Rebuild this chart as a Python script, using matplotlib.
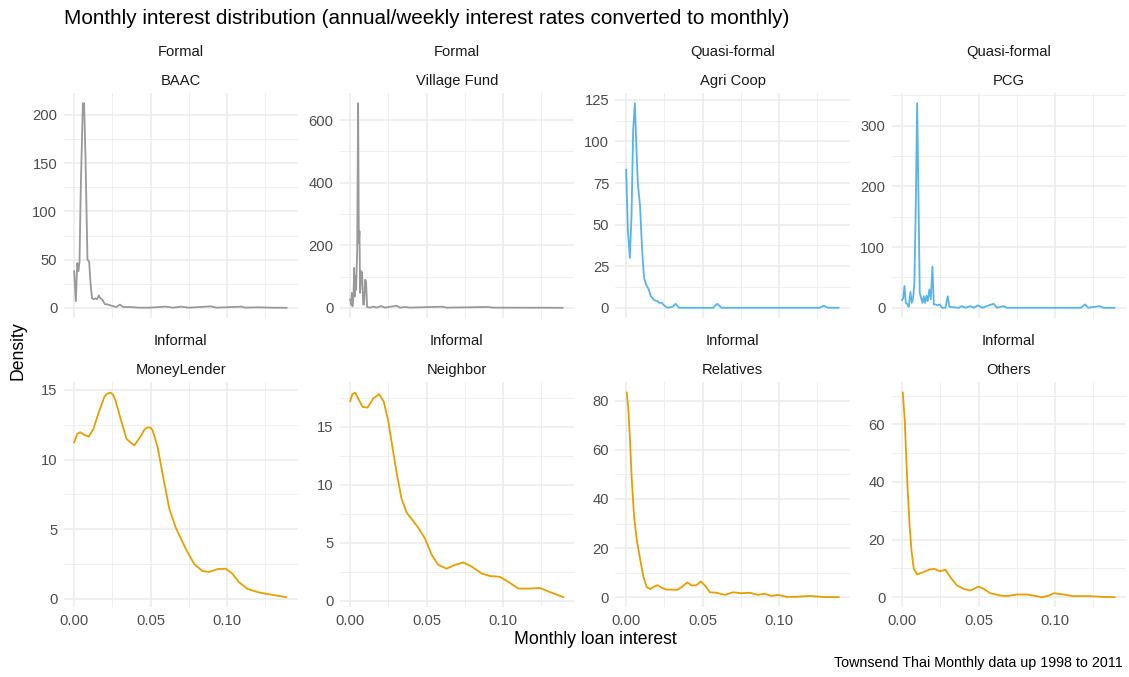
import numpy as np
import matplotlib.pyplot as plt

plt.rcParams['font.family'] = ['Liberation Sans', 'DejaVu Sans']

# Facet labels
groups = ['Formal', 'Formal', 'Quasi-formal', 'Quasi-formal',
          'Informal', 'Informal', 'Informal', 'Informal']
lenders = ['BAAC', 'Village Fund', 'Agri Coop', 'PCG',
           'MoneyLender', 'Neighbor', 'Relatives', 'Others']

# Density curves (monthly interest, density)
baac_x = [0, 0.0011, 0.002, 0.0028, 0.0035, 0.0043, 0.0057, 0.0065, 0.0074, 0.0087,
          0.0098, 0.0107, 0.0117, 0.0128, 0.0139, 0.015, 0.0161, 0.0172, 0.0183, 0.02,
          0.0222, 0.0243, 0.0276, 0.03, 0.032, 0.0363, 0.043, 0.049, 0.06, 0.0646,
          0.07, 0.075, 0.0896, 0.093, 0.1096, 0.112, 0.12, 0.13, 0.139]
baac_y = [38, 7, 46.5, 38, 48, 122, 212, 212, 157, 50,
          48, 26, 10, 9, 10, 9, 13, 10, 9, 4,
          3.5, 2.4, 1, 3.5, 1, 1, 0.3, 0.3, 1.4, 0.3,
          1.4, 0.3, 1.7, 0.3, 1.4, 0.3, 0.7, 0.3, 0.2]

vf_x = [0, 0.0007, 0.0011, 0.0015, 0.0022, 0.0026, 0.003, 0.0035, 0.0039, 0.0046,
        0.0052, 0.0057, 0.0061, 0.0065, 0.0072, 0.0078, 0.0085, 0.0091, 0.0098, 0.0104,
        0.0111, 0.013, 0.0152, 0.0174, 0.0202, 0.0228, 0.0302, 0.0326, 0.0359, 0.039,
        0.0604, 0.063, 0.09, 0.0935, 0.139]
vf_y = [27, 11, 48, 5, 37, 128, 37, 101, 58, 186,
        654, 207, 245, 48, 117, 112, 11, 11, 90, 85,
        3, 1, 4, 1, 6, 1, 7, 1, 3, 1,
        4, 1, 3, 1, 0.5]

agri_x = [0, 0.0011, 0.0024, 0.0035, 0.0046, 0.0057, 0.0065, 0.0076, 0.0091, 0.0104,
          0.0117, 0.013, 0.0148, 0.0161, 0.0183, 0.0204, 0.0217, 0.0233, 0.0248, 0.027,
          0.0304, 0.0324, 0.0346, 0.057, 0.0596, 0.0624, 0.1265, 0.1293, 0.132, 0.139]
agri_y = [83, 47, 30, 55, 107, 123, 101, 75, 61, 35,
          18, 14, 11, 7, 4.6, 4, 3, 3, 1.4, 0,
          0.6, 2.4, 0, 0, 2.4, 0, 0, 1.2, 0, 0]

pcg_x = [0, 0.0007, 0.0015, 0.0024, 0.0035, 0.0043, 0.0054, 0.0063, 0.0072, 0.008,
         0.0089, 0.0098, 0.0107, 0.0115, 0.0124, 0.0133, 0.0141, 0.015, 0.0159, 0.0167,
         0.0178, 0.0187, 0.0198, 0.0207, 0.0217, 0.0233, 0.0246, 0.0261, 0.0283, 0.0298,
         0.0309, 0.037, 0.0391, 0.0413, 0.0446, 0.0467, 0.0498, 0.0522, 0.0598, 0.062,
         0.0663, 0.0685, 0.117, 0.1196, 0.1217, 0.1293, 0.1315, 0.139]
pcg_y = [12.6, 16, 36, 8, 5.5, 1.6, 26, 8, 16, 41,
         167, 337, 178, 25, 16, 8, 19, 8, 20, 11,
         30, 14, 68, 5.5, 5.5, 4, 5.5, 0, 0, 19,
         1.6, 0, 2.7, 0, 2.7, 0, 4, 0, 6.6, 0,
         2.7, 0, 0, 5.5, 0, 2.7, 0, 0]

ml_x = [0, 0.002, 0.0039, 0.0063, 0.0096, 0.0126, 0.0161, 0.0198, 0.0215, 0.0237,
        0.0255, 0.027, 0.0307, 0.0343, 0.0393, 0.0437, 0.046, 0.048, 0.0497, 0.0513,
        0.0546, 0.0583, 0.0622, 0.0665, 0.073, 0.0785, 0.0839, 0.0883, 0.0937, 0.0991,
        0.1035, 0.1078, 0.1133, 0.1209, 0.1296, 0.1387]
ml_y = [11.23, 11.84, 11.96, 11.79, 11.64, 12.2, 13.4, 14.5, 14.72, 14.8,
        14.65, 14.25, 12.8, 11.47, 11.0, 11.7, 12.15, 12.3, 12.3, 12.1,
        10.9, 8.7, 6.5, 5.1, 3.6, 2.5, 2.0, 1.93, 2.13, 2.17,
        1.81, 1.2, 0.72, 0.46, 0.29, 0.12]

nb_x = [0, 0.0015, 0.0033, 0.0052, 0.0081, 0.0114, 0.0151, 0.019, 0.022, 0.0249,
        0.0277, 0.0303, 0.0336, 0.0369, 0.0402, 0.0445, 0.0489, 0.0533, 0.0576, 0.0631,
        0.0686, 0.074, 0.0795, 0.086, 0.0915, 0.098, 0.1035, 0.11, 0.1166, 0.1242,
        0.1308, 0.1395]
nb_y = [17.2, 17.8, 17.93, 17.43, 16.7, 16.64, 17.43, 17.8, 17.14, 15.5,
        13.2, 11.1, 8.79, 7.6, 7.03, 6.3, 5.36, 3.96, 3.08, 2.75,
        3.08, 3.28, 2.93, 2.34, 2.11, 2.05, 1.61, 1.03, 1.03, 1.08,
        0.73, 0.29]

rel_x = [0.0004, 0.0015, 0.0026, 0.0037, 0.0052, 0.007, 0.0091, 0.0113, 0.0135, 0.0157,
         0.0178, 0.0204, 0.0233, 0.0261, 0.0298, 0.0335, 0.0363, 0.04, 0.0428, 0.0457,
         0.0489, 0.0515, 0.0548, 0.0591, 0.0646, 0.07, 0.0754, 0.0809, 0.0863, 0.0907,
         0.095, 0.0993, 0.1048, 0.1113, 0.12, 0.1298, 0.1391]
rel_y = [83.3, 76.2, 62.6, 47.6, 32.7, 23.1, 15.6, 8.2, 4.1, 3.3,
         4.1, 4.9, 3.8, 3.1, 3.1, 3.0, 4.1, 6.0, 4.8, 4.8,
         6.4, 4.8, 2.0, 1.8, 0.95, 2.0, 1.6, 1.8, 0.95, 1.4,
         0.5, 0.95, 0.14, 0.14, 0.5, 0.05, 0.0]

oth_x = [0.0004, 0.0017, 0.0033, 0.0048, 0.0061, 0.0076, 0.0098, 0.013, 0.0174, 0.0207,
         0.0246, 0.0283, 0.0315, 0.0359, 0.0402, 0.0446, 0.05, 0.0533, 0.0576, 0.0641,
         0.0685, 0.075, 0.0815, 0.087, 0.0913, 0.0957, 0.0993, 0.1054, 0.112, 0.1228,
         0.1315, 0.139]
oth_y = [71, 61.4, 40.6, 25.5, 16.2, 9.85, 7.9, 8.5, 9.5, 9.85,
         9.0, 9.5, 6.95, 4.06, 2.9, 2.3, 3.7, 2.9, 1.39, 0.58,
         0.35, 0.93, 0.93, 0.46, 0.0, 0.46, 1.39, 0.93, 0.35, 0.35,
         0.1, 0.0]

curves = [(baac_x, baac_y), (vf_x, vf_y), (agri_x, agri_y), (pcg_x, pcg_y),
          (ml_x, ml_y), (nb_x, nb_y), (rel_x, rel_y), (oth_x, oth_y)]

group_colors = {'Formal': '#999999', 'Quasi-formal': '#56B4E9', 'Informal': '#E69F00'}
y_steps = [50, 200, 25, 100, 5, 5, 20, 20]

W, H = 1129, 677
fig = plt.figure(figsize=(W / 100, H / 100), dpi=100)

# shared x range with 5% padding
all_x = np.concatenate([np.asarray(c[0]) for c in curves])
x_lo, x_hi = all_x.min(), all_x.max()
x_pad = 0.05 * (x_hi - x_lo)

lefts = [63.5, 339.5, 615.5, 891.5]
panel_w = 234.5
row_tops = [93, 382.4]
panel_h = 225

for i, (xs, ys) in enumerate(curves):
    r, c = divmod(i, 4)
    left = lefts[c]
    top = row_tops[r]
    ax = fig.add_axes([left / W, 1 - (top + panel_h) / H, panel_w / W, panel_h / H])

    ax.plot(xs, ys, color=group_colors[groups[i]], lw=1.3, solid_joinstyle='round')

    y = np.asarray(ys)
    y_pad = 0.05 * (y.max() - y.min())
    y_top = y.max() + y_pad
    ax.set_ylim(y.min() - y_pad, y_top)
    ax.set_xlim(x_lo - x_pad, x_hi + x_pad)

    step = y_steps[i]
    major = np.arange(0, y_top + 1e-9, step)
    minor = np.arange(step / 2, y_top, step)
    ax.set_yticks(major)
    ax.set_yticks(minor, minor=True)
    ax.set_yticklabels([f'{v:g}' for v in major])

    ax.set_xticks([0, 0.05, 0.10])
    ax.set_xticks([0.025, 0.075, 0.125], minor=True)
    if r == 1:
        ax.set_xticklabels(['0.00', '0.05', '0.10'])
    else:
        ax.set_xticklabels([])

    ax.grid(which='major', color='#EBEBEB', lw=1.1)
    ax.grid(which='minor', color='#EBEBEB', lw=0.55)
    ax.set_axisbelow(True)
    for s in ax.spines.values():
        s.set_visible(False)
    ax.tick_params(which='both', length=0, labelsize=10.6, labelcolor='#4D4D4D')
    ax.tick_params(axis='x', pad=4.5)
    ax.tick_params(axis='y', pad=4.5)

    # two-line facet strip
    cx = (left + panel_w / 2) / W
    fig.text(cx, 1 - (top - 41) / H, groups[i], ha='center', va='center',
             fontsize=10.6, color='#1A1A1A')
    fig.text(cx, 1 - (top - 12) / H, lenders[i], ha='center', va='center',
             fontsize=10.6, color='#1A1A1A')

fig.text(64 / W, 1 - 19 / H,
         'Monthly interest distribution (annual/weekly interest rates converted to monthly)',
         ha='left', va='center', fontsize=14.9, color='black')
fig.text(18 / W, 1 - 351 / H, 'Density', rotation=90, ha='center', va='center',
         fontsize=12.7, color='black')
fig.text(595 / W, 1 - 640 / H, 'Monthly loan interest', ha='center', va='center',
         fontsize=12.7, color='black')
fig.text(1123 / W, 1 - 663 / H, 'Townsend Thai Monthly data up 1998 to 2011',
         ha='right', va='center', fontsize=10.3, color='black')

fig.savefig('out.png', dpi=100, facecolor='white')
